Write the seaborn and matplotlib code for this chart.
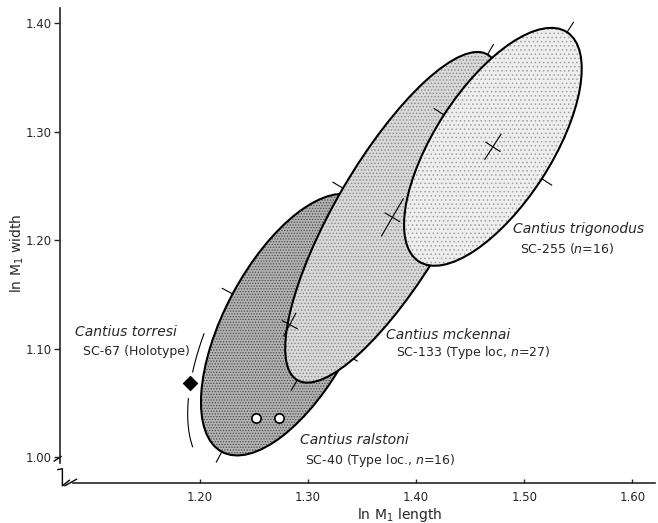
import numpy as np
import matplotlib
matplotlib.use("Agg")
import matplotlib.pyplot as plt
from matplotlib.patches import Ellipse
import pandas as pd
import seaborn as sns

# bivariate ellipses of ln M1 length / ln M1 width
species = ["Cantius ralstoni", "Cantius mckennai", "Cantius trigonodus"]
samples = ["SC-40 (Type loc., $n$=16)", "SC-133 (Type loc, $n$=27)", "SC-255 ($n$=16)"]
mean_len = [1.283, 1.378, 1.471]
mean_wid = [1.122, 1.221, 1.286]
semi_major = [0.133, 0.174, 0.126]
semi_minor = [0.060, 0.053, 0.054]
tilt_deg = [61.8, 59.6, 57.0]
ci_major = [0.012, 0.020, 0.014]
ci_minor = [0.008, 0.008, 0.008]

# single specimens
torresi_len = [1.191]
torresi_wid = [1.068]
ralstoni_len = [1.252, 1.273]
ralstoni_wid = [1.036, 1.036]

x_ticks = [1.20, 1.30, 1.40, 1.50, 1.60]
y_ticks = [1.00, 1.10, 1.20, 1.30, 1.40]

# styles
face_cols = ["#b3b3b3", "#d9d9d9", "#eeeeee"]
dot_cols = ["#4a4a4a", "#888888", "#a0a0a0"]
hatches = ["......", ".....", "...."]
# which axis ends get a tick: (+major, -major, +minor, -minor)
end_ticks = [(True, True, True, True), (True, True, True, True), (True, False, True, True)]

sns.set_style("ticks")
plt.rcParams['font.family'] = ['DejaVu Sans']
plt.rcParams['hatch.linewidth'] = 0.6

fig = plt.figure(figsize=(6.58, 5.23), dpi=100)
ax = fig.add_axes([0.0912, 0.0765, 0.9042, 0.9082])
ax.set_xlim(1.0704, 1.621)
ax.set_ylim(0.976, 1.414)

tl = 0.011
for i in range(len(species)):
    c = np.array([mean_len[i], mean_wid[i]])
    th = np.radians(tilt_deg[i])
    u = np.array([np.cos(th), np.sin(th)])
    v = np.array([-np.sin(th), np.cos(th)])
    z = 2 + 2 * i
    w, h = 2 * semi_major[i], 2 * semi_minor[i]
    ax.add_patch(Ellipse(c, w, h, angle=tilt_deg[i], facecolor=face_cols[i],
                         edgecolor="none", zorder=z))
    ax.add_patch(Ellipse(c, w, h, angle=tilt_deg[i], facecolor="none",
                         edgecolor=dot_cols[i], hatch=hatches[i], linewidth=0, zorder=z))
    ax.add_patch(Ellipse(c, w, h, angle=tilt_deg[i], facecolor="none",
                         edgecolor="black", linewidth=1.5, zorder=z))
    ends = [(u, semi_major[i]), (-u, semi_major[i]), (v, semi_minor[i]), (-v, semi_minor[i])]
    for (d, r), on in zip(ends, end_ticks[i]):
        if on:
            p0, p1 = c + r * d, c + (r + tl) * d
            ax.plot([p0[0], p1[0]], [p0[1], p1[1]], color="black", lw=0.8, zorder=z)
    # mean cross, kept on top of the overlapping fills
    for d, r in [(u, ci_major[i]), (v, ci_minor[i])]:
        ax.plot([c[0] - r * d[0], c[0] + r * d[0]], [c[1] - r * d[1], c[1] + r * d[1]],
                color="black", lw=0.8, zorder=9)

# range arc of ralstoni around the torresi holotype
c = np.array([mean_len[0], mean_wid[0]])
th = np.radians(tilt_deg[0])
for t0, t1 in [(107, 122), (133, 158)]:
    t = np.radians(np.linspace(t0, t1, 40))
    uu = 1.15 * semi_major[0] * np.cos(t)
    vv = 1.15 * semi_minor[0] * np.sin(t)
    ax.plot(c[0] + uu * np.cos(th) - vv * np.sin(th),
            c[1] + uu * np.sin(th) + vv * np.cos(th), color="black", lw=0.8, zorder=8)

pts = pd.DataFrame({"len": ralstoni_len, "wid": ralstoni_wid})
sns.scatterplot(data=pts, x="len", y="wid", marker="o", s=45, facecolor="white",
                edgecolor="black", linewidth=1.2, ax=ax, zorder=9)
hol = pd.DataFrame({"len": torresi_len, "wid": torresi_wid})
sns.scatterplot(data=hol, x="len", y="wid", marker="D", s=55, color="black",
                edgecolor="black", ax=ax, zorder=9)

# labels
name_kw = dict(fontsize=10, fontstyle="italic", va="center", ha="left", zorder=10)
sub_kw = dict(fontsize=9, va="center", ha="left", zorder=10)
ax.text(1.0843, 1.1152, "Cantius torresi", **name_kw)
ax.text(1.0917, 1.0968, "SC-67 (Holotype)", **sub_kw)
ax.text(1.2926, 1.0157, species[0], **name_kw)
ax.text(1.2972, 0.9972, samples[0], **sub_kw)
ax.text(1.3722, 1.1124, species[1], **name_kw)
ax.text(1.3815, 1.0959, samples[1], **sub_kw)
ax.text(1.4898, 1.2101, species[2], **name_kw)
ax.text(1.4963, 1.1926, samples[2], **sub_kw)

ax.set_xticks(x_ticks)
ax.set_yticks(y_ticks)
ax.set_xticklabels([f"{x:.2f}" for x in x_ticks], fontsize=8.5)
ax.set_yticklabels([f"{y:.2f}" for y in y_ticks], fontsize=8.5)
ax.tick_params(axis="x", direction="in", length=3, width=1, pad=6)
ax.tick_params(axis="y", direction="out", length=4, width=1, pad=2)
ax.set_xlabel("ln M$_1$ length", fontsize=10)
ax.set_ylabel("ln M$_1$ width", fontsize=10)
ax.xaxis.set_label_coords(0.571, -0.048)
ax.yaxis.set_label_coords(-0.058, 0.484)

sns.despine(ax=ax)
for s in ["left", "bottom"]:
    ax.spines[s].set_linewidth(1.2)
ax.spines["left"].set_bounds(0.994, 1.414)
ax.spines["bottom"].set_bounds(1.082, 1.621)
# axis break marks
brk = dict(transform=ax.transAxes, color="black", lw=1.0, clip_on=False)
ax.plot([-0.004, 0.004, 0.004, 0.016], [0.028, 0.030, -0.006, 0.006], **brk)
ax.plot([0.008, 0.028], [-0.006, 0.008], **brk)
ax.plot([-0.01, 0.002], [0.046, 0.056], **brk)

fig.savefig("out.png", dpi=100)
